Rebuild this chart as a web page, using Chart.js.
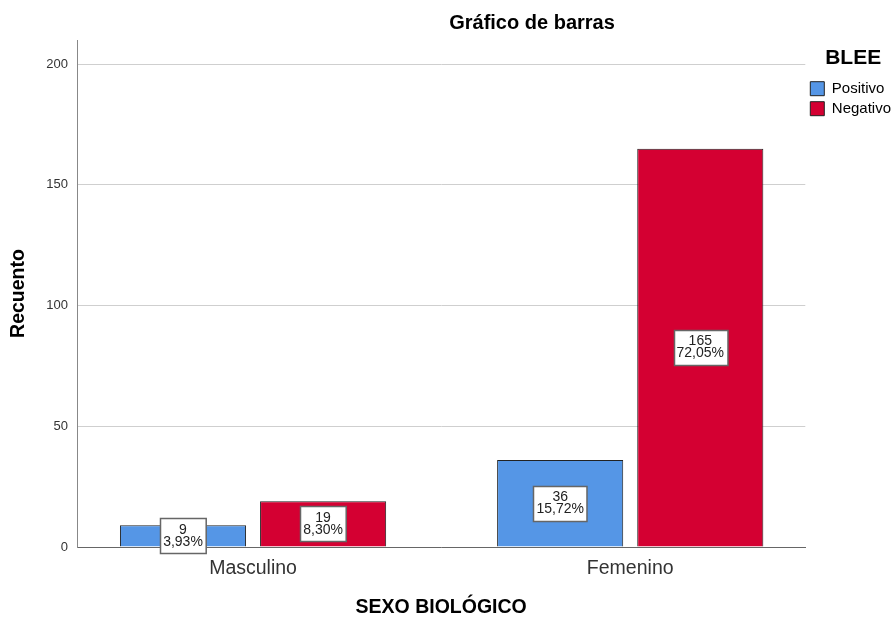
<!DOCTYPE html>
<html>
<head>
<meta charset="utf-8">
<script src="https://cdn.jsdelivr.net/npm/chart.js@4/dist/chart.umd.min.js"></script>
<style>
  html, body { margin: 0; padding: 0; background: #fff; }
  #wrap { width: 893px; height: 619px; }
</style>
</head>
<body>
<div id="wrap"><canvas id="c" width="893" height="619"></canvas></div>
<script>
// datos
const categorias = ['Masculino', 'Femenino'];
const positivo = [9, 36];
const negativo = [19, 165];
const positivoPct = ['3,93%', '15,72%'];
const negativoPct = ['8,30%', '72,05%'];
const yTicks = [0, 50, 100, 150, 200];

const FONT = '"Liberation Sans", Arial, sans-serif';

// titulo arriba, un poco corrido a la derecha como en SPSS
const titlePlugin = {
  id: 'spssTitle',
  afterDraw(chart) {
    const ctx = chart.ctx;
    ctx.save();
    ctx.font = 'bold 20px ' + FONT;
    ctx.fillStyle = '#000';
    ctx.textAlign = 'center';
    ctx.textBaseline = 'middle';
    ctx.fillText('Gráfico de barras', 532, 23);
    ctx.restore();
  }
};

// cajitas blancas con recuento y porcentaje
const boxLabels = {
  id: 'boxLabels',
  afterDatasetsDraw(chart) {
    const ctx = chart.ctx;
    const pcts = [positivoPct, negativoPct];
    ctx.save();
    ctx.font = '14px ' + FONT;
    chart.data.datasets.forEach((ds, di) => {
      const meta = chart.getDatasetMeta(di);
      meta.data.forEach((bar, i) => {
        const { x, y, base } = bar.getProps(['x', 'y', 'base'], true);
        const l1 = String(ds.data[i].y);
        const l2 = pcts[di][i];
        const w = Math.max(ctx.measureText(l1).width, ctx.measureText(l2).width) + 6;
        const h = 35;
        let cy = (y + base) / 2;
        if (cy + h / 2 > base + 7) cy = base + 7 - h / 2;
        const bx = Math.round(x - w / 2) + 0.5;
        const by = Math.round(cy - h / 2) + 0.5;
        ctx.fillStyle = '#fff';
        ctx.fillRect(bx, by, w, h);
        ctx.strokeStyle = '#666';
        ctx.lineWidth = 1.5;
        ctx.strokeRect(bx, by, w, h);
        ctx.fillStyle = '#222';
        ctx.textAlign = 'center';
        ctx.textBaseline = 'middle';
        ctx.fillText(l1, x, cy - 6);
        ctx.fillText(l2, x, cy + 6);
      });
    });
    ctx.restore();
  }
};

const toPts = arr => arr.map((v, i) => ({ x: i, y: v }));

new Chart(document.getElementById('c'), {
  type: 'bar',
  data: {
    datasets: [
      {
        label: 'Positivo',
        data: toPts(positivo),
        backgroundColor: '#5596E6',
        borderColor: '#222',
        borderWidth: 1,
        categoryPercentage: 0.743,
        barPercentage: 0.9
      },
      {
        label: 'Negativo',
        data: toPts(negativo),
        backgroundColor: '#D40032',
        borderColor: '#222',
        borderWidth: 1,
        categoryPercentage: 0.743,
        barPercentage: 0.9
      }
    ]
  },
  options: {
    responsive: false,
    animation: false,
    layout: { padding: { top: 40, right: -8, left: 0, bottom: 0 } },
    scales: {
      x: {
        type: 'linear',
        offset: false,
        min: -0.4668,
        max: 1.4642,
        afterBuildTicks: s => { s.ticks = categorias.map((_, i) => ({ value: i })); },
        afterFit: s => { s.height = 72; },
        grid: { display: false },
        border: { display: true, color: '#666', width: 1 },
        ticks: {
          padding: 2,
          color: '#333',
          font: { family: FONT, size: 19.5 },
          callback: v => categorias[v]
        },
        title: {
          display: true,
          text: 'SEXO BIOLÓGICO',
          color: '#000',
          font: { family: FONT, size: 19.5, weight: 'bold' },
          padding: { top: 0, bottom: 0 }
        }
      },
      y: {
        min: 0,
        max: 210,
        afterBuildTicks: s => { s.ticks = yTicks.map(v => ({ value: v })); },
        afterFit: s => { s.width = 77; },
        grid: { color: '#cfcfcf', lineWidth: 1, drawTicks: false },
        border: { display: true, color: '#888', width: 1 },
        ticks: {
          padding: 9,
          color: '#333',
          font: { family: FONT, size: 13 }
        },
        title: {
          display: true,
          text: 'Recuento',
          color: '#000',
          font: { family: FONT, size: 19.5, weight: 'bold' },
          padding: { top: 7, bottom: 0 }
        }
      }
    },
    plugins: {
      title: { display: false },
      tooltip: { enabled: false },
      legend: {
        position: 'right',
        align: 'start',
        title: {
          display: true,
          text: 'BLEE',
          color: '#000',
          font: { family: FONT, size: 21, weight: 'bold' },
          padding: { top: 8, bottom: 3 }
        },
        labels: {
          boxWidth: 14,
          boxHeight: 14,
          padding: 5,
          color: '#000',
          font: { family: FONT, size: 15 }
        }
      }
    }
  },
  plugins: [titlePlugin, boxLabels]
});
</script>
</body>
</html>
